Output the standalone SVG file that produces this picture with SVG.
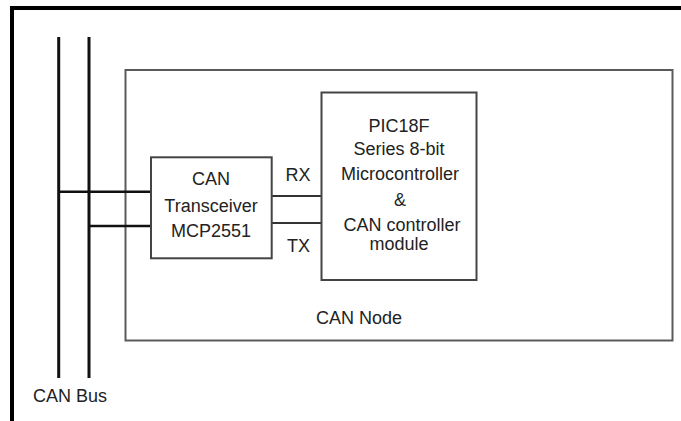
<svg xmlns="http://www.w3.org/2000/svg" width="681" height="421" viewBox="0 0 681 421">
<style>
text{font-family:"Liberation Sans",Arial,sans-serif;font-size:18px;fill:#222;}
.c{text-anchor:middle;}
.frame{stroke:#000;stroke-width:4;fill:none;}
.bus{stroke:#111;stroke-width:3;fill:none;}
.box{fill:#fff;stroke:#444;stroke-width:2;}
.outer{fill:#fff;stroke:#5a5a5a;stroke-width:2;}
.wire{stroke:#333;stroke-width:2;fill:none;}
.tap{stroke:#111;stroke-width:2.5;fill:none;}
</style>
<rect width="681" height="421" fill="#fff"/>
<g id="frame">
<path class="frame" d="M12 421 V8 H681"/>
</g>
<g id="can-node">
<rect class="outer" x="125.5" y="70" width="547" height="270.5"/>
<text x="359" y="324" class="c">CAN Node</text>
</g>
<g id="can-bus">
<line class="bus" x1="58.7" y1="37" x2="58.7" y2="378"/>
<line class="bus" x1="89" y1="37" x2="89" y2="378"/>
<text x="70" y="401.7" class="c">CAN Bus</text>
</g>
<g id="connectors">
<line class="tap" x1="58.7" y1="191.7" x2="151" y2="191.7"/>
<line class="tap" x1="89" y1="226" x2="151" y2="226"/>
<line class="wire" x1="271.7" y1="196" x2="321.5" y2="196"/>
<line class="wire" x1="271.7" y1="223" x2="321.5" y2="223"/>
<text x="298" y="180.7" class="c">RX</text>
<text x="298.5" y="251.7" class="c">TX</text>
</g>
<g id="transceiver">
<rect class="box" x="151" y="157.3" width="120.7" height="101"/>
<text x="211" y="185" class="c">CAN</text>
<text x="211" y="211.7" class="c">Transceiver</text>
<text x="211" y="237.3" class="c">MCP2551</text>
</g>
<g id="pic">
<rect class="box" x="321.5" y="92.5" width="155" height="187.5"/>
<text x="399" y="131.7" class="c">PIC18F</text>
<text x="399" y="155" class="c">Series 8-bit</text>
<text x="400" y="180" class="c">Microcontroller</text>
<text x="400" y="206" class="c">&amp;</text>
<text x="402" y="231" class="c">CAN controller</text>
<text x="399" y="250" class="c">module</text>
</g>
</svg>
